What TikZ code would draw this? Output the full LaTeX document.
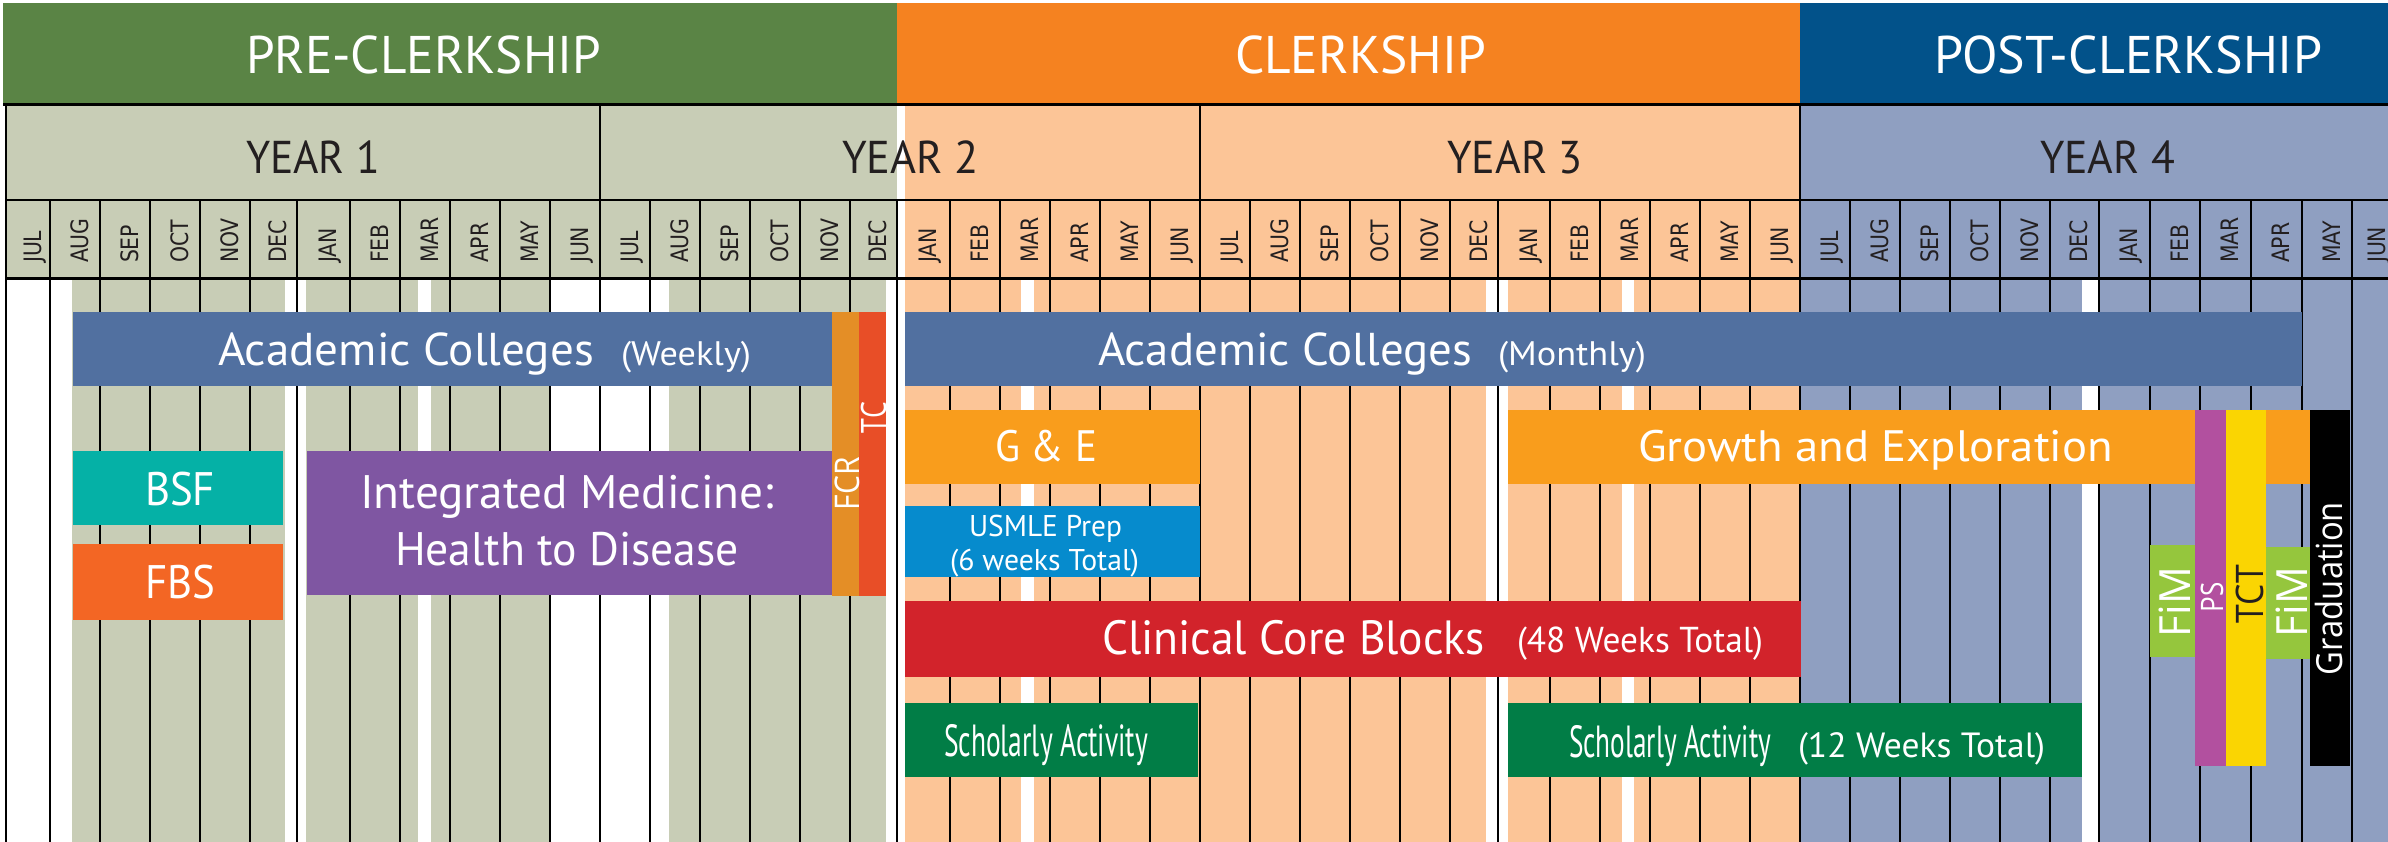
\documentclass[tikz,border=0pt]{standalone}
\usepackage{fontspec}
\usepackage{graphicx}
\setmainfont{PT Sans}
\newfontfamily\osans{Open Sans}
\newfontfamily\dvs{DejaVu Sans}
\definecolor{preG}{RGB}{90,132,69}
\definecolor{clkO}{RGB}{245,130,32}
\definecolor{postB}{RGB}{2,82,138}
\definecolor{grayG}{RGB}{200,205,182}
\definecolor{peach}{RGB}{252,197,151}
\definecolor{blueG}{RGB}{143,159,193}
\definecolor{acB}{RGB}{81,112,160}
\definecolor{bsfT}{RGB}{5,177,166}
\definecolor{fbsO}{RGB}{243,102,36}
\definecolor{imP}{RGB}{127,86,162}
\definecolor{fcrO}{RGB}{228,142,38}
\definecolor{tcR}{RGB}{232,78,39}
\definecolor{geO}{RGB}{249,157,28}
\definecolor{usB}{RGB}{6,139,205}
\definecolor{ccR}{RGB}{210,35,43}
\definecolor{saG}{RGB}{1,125,70}
\definecolor{fimG}{RGB}{149,198,61}
\definecolor{psM}{RGB}{178,80,159}
\definecolor{tctY}{RGB}{250,213,2}
\definecolor{ink}{RGB}{35,31,32}
\newlength\fitlen
\newcommand\fitw[2]{\settowidth{\fitlen}{#2}\pgfmathsetmacro\fitratio{#1/\fitlen}\scalebox{\fitratio}[1]{#2}}
\begin{document}
\begin{tikzpicture}[x=1pt,y=-1pt,
  lab/.style={inner sep=0pt, outer sep=0pt, anchor=base west, text=white, font=\fontsize{#1}{#1}\selectfont},
  vlab/.style={inner sep=0pt, outer sep=0pt, anchor=base west, rotate=90, text=white, font=\osans\fontsize{#1}{#1}\selectfont},
  mon/.style={inner sep=0pt, outer sep=0pt, anchor=base west, rotate=90, text=ink, font=\dvs\fontsize{24}{24}\selectfont},
  mline/.style={line width=2pt, draw=black},
  hline/.style={line width=3pt, draw=black},
]
\useasboundingbox (0,0) rectangle (2388,842);
\fill[white] (0,0) rectangle (2388,842);
% top bands
\fill[preG] (3,3) rectangle (897,105);
\fill[clkO] (897,3) rectangle (1800,105);
\fill[postB] (1800,3) rectangle (2388,105);
% year + month rows
\fill[grayG] (5,105) rectangle (897,279);
\fill[peach] (905,105) rectangle (1800,279);
\fill[blueG] (1800,105) rectangle (2388,279);
% body
\fill[grayG] (5,279) rectangle (897,842);
\fill[peach] (897,279) rectangle (1800,842);
\fill[blueG] (1800,279) rectangle (2388,842);
\foreach \a/\b in {0/72,285/306,418/431,549/669,886/905,1021/1034,1486/1508,1622/1634,2082/2098}
  \fill[white] (\a,280) rectangle (\b,842);
% lines
\foreach \x in {50,100,150,200,250,297,350,400,450,500,550,600,650,700,750,800,850,897,950,1000,1050,1100,1150,1200,1250,1300,1350,1400,1450,1498,1550,1600,1650,1700,1750,1800,1850,1900,1950,2000,2050,2099,2150,2200,2251,2302,2352}
  \draw[mline] (\x,200) -- (\x,842);
\foreach \x in {599.5,1199.5,1800}
  \draw[mline] (\x,105) -- (\x,200);
\draw[line width=1.5pt] (6,105) -- (6,842);
\draw[hline] (3,105) -- (2388,105);
\draw[line width=2.5pt] (5,200) -- (2388,200);
\draw[hline] (5,279) -- (2388,279);
% month labels
\foreach \m/\c [count=\i] in {JUL/28,AUG/75,SEP/125,OCT/175,NOV/225,DEC/273.5,JAN/323.5,FEB/375,MAR/425,APR/475,MAY/525,JUN/575,
  JUL/625,AUG/675,SEP/725,OCT/775,NOV/825,DEC/873.5,JAN/923.5,FEB/975,MAR/1025,APR/1075,MAY/1125,JUN/1175,
  JUL/1225,AUG/1275,SEP/1325,OCT/1375,NOV/1425,DEC/1474,JAN/1524,FEB/1575,MAR/1625,APR/1675,MAY/1725,JUN/1775,
  JUL/1825,AUG/1875,SEP/1925,OCT/1975,NOV/2025,DEC/2074.5,JAN/2124.5,FEB/2175,MAR/2225.5,APR/2276.5,MAY/2327,JUN/2372}
  \node[mon] (m\i) at (\c+13,263) {\scalebox{0.85}[1]{\m}};
% header texts
\node[lab=53] (pre) at (246,74) {\fitw{355}{PRE-CLERKSHIP}};
\node[lab=53] (clk) at (1235,74) {\fitw{251}{CLERKSHIP}};
\node[lab=53] (post) at (1934,74) {\fitw{388}{POST-CLERKSHIP}};
\node[lab=46,text=ink] (y1) at (246,174) {\fitw{134}{YEAR 1}};
\node[lab=46,text=ink] (y2) at (842,174) {\fitw{137}{YEAR 2}};
\node[lab=46,text=ink] (y3) at (1447,174) {\fitw{136}{YEAR 3}};
\node[lab=46,text=ink] (y4) at (2040,174) {\fitw{135}{YEAR 4}};
% bars
\fill[acB] (73,312) rectangle (832,386);
\fill[fcrO] (832,312) rectangle (859,596);
\fill[tcR] (859,312) rectangle (886,596);
\fill[bsfT] (73,451) rectangle (283,525);
\fill[fbsO] (73,544) rectangle (283,620);
\fill[imP] (307,451) rectangle (832,595);
\fill[acB] (905,312) rectangle (2302,386);
\fill[geO] (905,410) rectangle (1200,484);
\fill[usB] (905,506) rectangle (1200,577);
\fill[ccR] (905,601) rectangle (1801,677);
\fill[saG] (905,703) rectangle (1198,777);
\fill[geO] (1508,410) rectangle (2310,484);
\fill[saG] (1508,703) rectangle (2082,777);
\fill[fimG] (2150,545) rectangle (2195,657);
\fill[psM] (2195,410) rectangle (2226,766);
\fill[tctY] (2226,410) rectangle (2266,766);
\fill[fimG] (2266,547) rectangle (2310,659);
\fill[black] (2310,410) rectangle (2350,766);
% bar texts
\node[lab=46] (acw) at (218,365) {\fitw{376}{Academic Colleges}};
\node[lab=34] (acwk) at (621,365) {\fitw{130}{(Weekly)}};
\node[lab=46] (acm) at (1098,365) {\fitw{374}{Academic Colleges}};
\node[lab=34] (acmk) at (1498,365) {\fitw{148}{(Monthly)}};
\node[lab=47] (bsf) at (145,505) {\fitw{70}{BSF}};
\node[lab=47] (fbs) at (145,598) {\fitw{70}{FBS}};
\node[lab=47] (im1) at (360,508) {\fitw{414}{Integrated Medicine:}};
\node[lab=47] (im2) at (395,565) {\fitw{344}{Health to Disease}};
\node[lab=44] (ge) at (995,461) {\fitw{102}{G \& E}};
\node[lab=30] (us1) at (969,536) {\fitw{153}{USMLE Prep}};
\node[lab=30] (us2) at (950,570) {\fitw{189}{(6 weeks Total)}};
\node[lab=48] (ccb) at (1102,654) {\fitw{383}{Clinical Core Blocks}};
\node[lab=36] (ccbw) at (1517,652) {\fitw{246}{(48 Weeks Total)}};
\node[lab=45] (sa1) at (944,756) {\fitw{204}{Scholarly Activity}};
\node[lab=45] (sa2) at (1569,757) {\fitw{202}{Scholarly Activity}};
\node[lab=35] (saw) at (1798,757) {\fitw{247}{(12 Weeks Total)}};
\node[lab=44] (gro) at (1638,461) {\fitw{475}{Growth and Exploration}};
% vertical texts
\node[vlab=34] (fcr) at (859,510) {\fitw{53}{FCR}};
\node[vlab=35] (tc) at (886,433) {\fitw{31}{TC}};
\node[vlab=43] (fim1) at (2190,637) {\fitw{70}{FiM}};
\node[vlab=31] (ps) at (2223,612) {\fitw{30}{PS}};
\node[vlab=38,text=ink] (tct) at (2263,623) {\fitw{58}{TCT}};
\node[vlab=43] (fim2) at (2307,637) {\fitw{70}{FiM}};
\node[vlab=36] (grad) at (2342,675) {\fitw{173}{Graduation}};
\end{tikzpicture}
\end{document}
